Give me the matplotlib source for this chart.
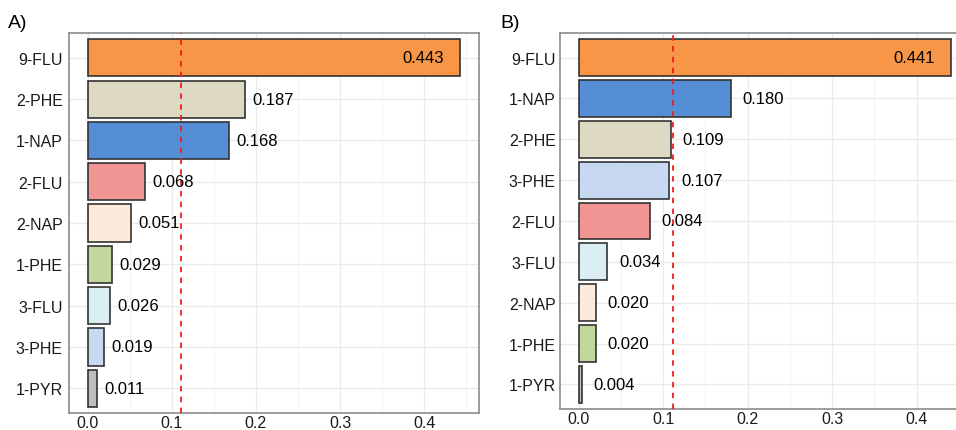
import matplotlib.pyplot as plt
from matplotlib.ticker import MultipleLocator

plt.rcParams["font.family"] = ["Liberation Sans", "DejaVu Sans"]

COLORS = {
    "9-FLU": "#F79646",
    "2-PHE": "#DDD9C3",
    "1-NAP": "#558ED5",
    "2-FLU": "#F09494",
    "2-NAP": "#FDEADA",
    "1-PHE": "#C3D69B",
    "3-FLU": "#DBEEF4",
    "3-PHE": "#C6D9F1",
    "1-PYR": "#BFBFBF",
}

labels_a = ["9-FLU", "2-PHE", "1-NAP", "2-FLU", "2-NAP", "1-PHE", "3-FLU", "3-PHE", "1-PYR"]
values_a = [0.443, 0.187, 0.168, 0.068, 0.051, 0.029, 0.026, 0.019, 0.011]

labels_b = ["9-FLU", "1-NAP", "2-PHE", "3-PHE", "2-FLU", "3-FLU", "2-NAP", "1-PHE", "1-PYR"]
values_b = [0.441, 0.180, 0.109, 0.107, 0.084, 0.034, 0.020, 0.020, 0.004]

ticks_x = [0.0, 0.1, 0.2, 0.3, 0.4]


def draw_panel(ax, labels, values, nudge, ypad):
    n = len(labels)
    ypos = list(range(n, 0, -1))
    ax.barh(ypos, values, height=0.9, color=[COLORS[l] for l in labels],
            edgecolor="#333333", linewidth=1.2, zorder=3)
    vmax = max(values)
    for y, v in zip(ypos, values):
        if v == vmax:
            # largest bar gets its label inside, near the end
            ax.text(v - 0.02, y, f"{v:.3f}", ha="right", va="center", fontsize=12, zorder=5)
        else:
            ax.text(v + nudge, y, f"{v:.3f}", ha="left", va="center", fontsize=12, zorder=5)
    ax.axvline(1 / n, color="#EE1C1C", linestyle=(0, (3, 3)), linewidth=1.3, zorder=4)
    ax.set_xlim(-0.05 * vmax, 1.05 * vmax)
    ax.set_ylim(0.4, n + 0.6)
    ax.set_yticks(ypos)
    ax.set_yticklabels(labels)
    ax.set_xticks(ticks_x)
    ax.set_xticklabels([f"{t:.1f}" for t in ticks_x])
    ax.xaxis.set_minor_locator(MultipleLocator(0.05))
    ax.grid(True, which="major", color="#EBEBEB", linewidth=1.0, zorder=0)
    ax.grid(True, which="minor", axis="x", color="#F3F3F3", linewidth=0.7, zorder=0)
    ax.tick_params(axis="both", which="both", length=0, labelsize=11.5, colors="#1A1A1A")
    ax.tick_params(axis="y", pad=ypad)
    ax.tick_params(axis="x", pad=1.5)
    for s in ax.spines.values():
        s.set_color("#8C8C8C")
        s.set_linewidth(1.2)
    ax.set_axisbelow(True)


fig = plt.figure(figsize=(9.56, 4.31), dpi=100)
W, H = 956, 431
ax_a = fig.add_axes([69 / W, 1 - 414 / H, 410 / W, 380 / H])
ax_b = fig.add_axes([560 / W, 1 - 410 / H, 410 / W, 376 / H])

draw_panel(ax_a, labels_a, values_a, 0.009, 4.5)
draw_panel(ax_b, labels_b, values_b, 0.014, 3)

fig.text(8 / W, 1 - 23 / H, "A)", fontsize=14, va="center", ha="left")
fig.text(500 / W, 1 - 23 / H, "B)", fontsize=14, va="center", ha="left")

fig.savefig("out.png", dpi=100, facecolor="white")
